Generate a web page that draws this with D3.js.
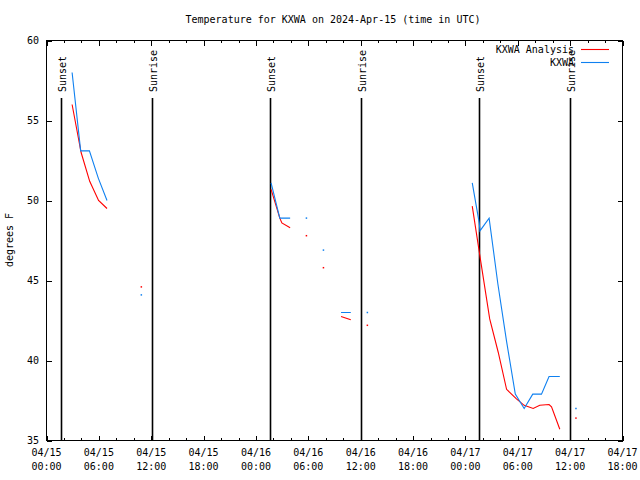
<!DOCTYPE html>
<html>
<head>
<meta charset="utf-8">
<script src="https://cdn.jsdelivr.net/npm/d3@7"></script>
<style>
  html, body { margin: 0; padding: 0; background: #fff; }
  svg { display: block; }
  text { font-family: "DejaVu Sans Mono", "Liberation Mono", monospace; font-size: 10px; fill: #000; }
</style>
</head>
<body>
<svg id="chart" width="640" height="480"></svg>
<script>
// ---------------- DATA ----------------
const titleText = "Temperature for KXWA on 2024-Apr-15 (time in UTC)";
const yLabelText = "degrees F";
const seriesNames = ["KXWA Analysis", "KXWA"];
const seriesColors = ["#ff0000", "#0f80f0"];

// KXWA observations (null = gap)
const kxwaTimes = [
  "2024-04-15 02:56", "2024-04-15 03:55", "2024-04-15 04:55", "2024-04-15 05:56", "2024-04-15 06:56", null,
  "2024-04-15 10:52", null,
  "2024-04-16 01:44", "2024-04-16 02:44", "2024-04-16 03:55", null,
  "2024-04-16 05:47", null,
  "2024-04-16 07:44", null,
  "2024-04-16 09:45", "2024-04-16 10:52", null,
  "2024-04-16 12:46", null,
  "2024-04-17 00:47", "2024-04-17 01:35", "2024-04-17 01:40", "2024-04-17 02:43", "2024-04-17 03:43",
  "2024-04-17 04:43", "2024-04-17 05:43", "2024-04-17 06:44", "2024-04-17 07:43", "2024-04-17 08:43",
  "2024-04-17 09:35", "2024-04-17 10:49", null,
  "2024-04-17 12:40"
];
const kxwaTemps = [
  58.0, 53.1, 53.1, 51.4, 50.0, null,
  44.1, null,
  51.1, 48.9, 48.9, null,
  48.9, null,
  46.9, null,
  43.0, 43.0, null,
  43.0, null,
  51.1, 48.6, 48.1, 48.9, 44.8,
  41.2, 37.9, 37.0, 37.9, 37.9,
  39.0, 39.0, null,
  37.0
];

// KXWA Analysis (null = gap)
const analysisTimes = [
  "2024-04-15 02:56", "2024-04-15 03:58", "2024-04-15 04:57", "2024-04-15 05:58", "2024-04-15 06:56", null,
  "2024-04-15 10:52", null,
  "2024-04-16 01:44", "2024-04-16 02:44", "2024-04-16 02:58", "2024-04-16 03:55", null,
  "2024-04-16 05:47", null,
  "2024-04-16 07:44", null,
  "2024-04-16 09:45", "2024-04-16 10:52", null,
  "2024-04-16 12:46", null,
  "2024-04-17 00:47", "2024-04-17 01:47", "2024-04-17 02:47", "2024-04-17 03:46", "2024-04-17 04:43",
  "2024-04-17 05:51", "2024-04-17 06:44", "2024-04-17 07:46", "2024-04-17 08:31", "2024-04-17 09:35",
  "2024-04-17 09:52", "2024-04-17 10:49", null,
  "2024-04-17 12:40"
];
const analysisTemps = [
  56.0, 53.0, 51.2, 50.0, 49.5, null,
  44.6, null,
  50.7, 48.9, 48.6, 48.3, null,
  47.8, null,
  45.8, null,
  42.75, 42.55, null,
  42.2, null,
  49.65, 46.1, 42.6, 40.5, 38.2,
  37.6, 37.2, 37.0, 37.2, 37.25,
  37.1, 35.7, null,
  36.4
];

const sunsetTimes = ["2024-04-15 01:40", "2024-04-16 01:38", "2024-04-17 01:36"];
const sunriseTimes = ["2024-04-15 12:05", "2024-04-16 12:05", "2024-04-17 11:56"];

const xStart = "2024-04-15 00:00";
const xEnd = "2024-04-17 18:00";
const yTicks = [35, 40, 45, 50, 55, 60];

// ---------------- CHART ----------------
const parse = d3.utcParse("%Y-%m-%d %H:%M");
const svg = d3.select("#chart");
const L = 46.5, R = 622.5, T = 40.5, B = 440.5;

const x = d3.scaleUtc().domain([parse(xStart), parse(xEnd)]).range([L, R]);
const y = d3.scaleLinear().domain([35, 60]).range([B, T]);

// title
svg.append("text").attr("x", 333).attr("y", 23).attr("text-anchor", "middle").text(titleText);
// y label
svg.append("text").attr("transform", "translate(13,240) rotate(-90)")
  .attr("text-anchor", "middle").text(yLabelText);

// ticks
const majorTicks = d3.utcHour.every(6).range(parse(xStart), d3.utcHour.offset(parse(xEnd), 1));
const minorTicks = d3.utcHour.every(2).range(parse(xStart), d3.utcHour.offset(parse(xEnd), 1))
  .filter(d => d.getUTCHours() % 6 !== 0);

function styleAxis(g) {
  g.select(".domain").remove();
  g.selectAll("line").attr("stroke", "#000").attr("shape-rendering", "crispEdges");
  g.selectAll("text").remove();
}
svg.append("g").attr("transform", `translate(0,${B})`)
  .call(d3.axisBottom(x).tickValues(majorTicks).tickSize(-5).tickFormat("")).call(styleAxis);
svg.append("g").attr("transform", `translate(0,${B})`)
  .call(d3.axisBottom(x).tickValues(minorTicks).tickSize(-2.5).tickFormat("")).call(styleAxis);
svg.append("g").attr("transform", `translate(0,${T})`)
  .call(d3.axisTop(x).tickValues(majorTicks).tickSize(-5).tickFormat("")).call(styleAxis);
svg.append("g").attr("transform", `translate(0,${T})`)
  .call(d3.axisTop(x).tickValues(minorTicks).tickSize(-2.5).tickFormat("")).call(styleAxis);
svg.append("g").attr("transform", `translate(${L},0)`)
  .call(d3.axisLeft(y).tickValues(yTicks).tickSize(-5).tickFormat("")).call(styleAxis);
svg.append("g").attr("transform", `translate(${R},0)`)
  .call(d3.axisRight(y).tickValues(yTicks).tickSize(-5).tickFormat("")).call(styleAxis);

// x tick labels (two lines)
const fmtDate = d3.utcFormat("%m/%d"), fmtTime = d3.utcFormat("%H:%M");
const xl = svg.append("g").selectAll("text").data(majorTicks).join("text")
  .attr("text-anchor", "middle");
xl.append("tspan").attr("x", d => x(d)).attr("y", 456).text(d => fmtDate(d));
xl.append("tspan").attr("x", d => x(d)).attr("y", 470).text(d => fmtTime(d));

// y tick labels
svg.append("g").selectAll("text").data(yTicks).join("text")
  .attr("x", 39).attr("y", d => y(d)).attr("dy", "0.35em").attr("text-anchor", "end")
  .text(d => d);

// sunset / sunrise lines
const events = sunsetTimes.map(t => ({ t: parse(t), label: "Sunset" }))
  .concat(sunriseTimes.map(t => ({ t: parse(t), label: "Sunrise" })));
const ev = svg.append("g").selectAll("g").data(events).join("g");
ev.append("line")
  .attr("x1", d => Math.round(x(d.t)) + 0.5).attr("x2", d => Math.round(x(d.t)) + 0.5)
  .attr("y1", 98).attr("y2", B)
  .attr("stroke", "#000").attr("stroke-width", 1.6);
ev.append("text")
  .attr("transform", d => `translate(${Math.round(x(d.t)) + 4.5},92) rotate(-90)`)
  .attr("text-anchor", "start").text(d => d.label);

// series
function buildPoints(times, temps) {
  return times.map((t, i) => ({ t: t == null ? null : parse(t), v: temps[i] }));
}
const series = [
  { name: seriesNames[0], color: seriesColors[0], pts: buildPoints(analysisTimes, analysisTemps) },
  { name: seriesNames[1], color: seriesColors[1], pts: buildPoints(kxwaTimes, kxwaTemps) }
];
const line = d3.line().defined(d => d.t != null && d.v != null).x(d => x(d.t)).y(d => y(d.v));

series.forEach(s => {
  svg.append("path").datum(s.pts)
    .attr("d", line).attr("fill", "none").attr("stroke", s.color).attr("stroke-width", 1.1);
  const iso = s.pts.filter((d, i) => d.t != null &&
    (i === 0 || s.pts[i - 1].t == null) && (i === s.pts.length - 1 || s.pts[i + 1].t == null));
  svg.append("g").selectAll("rect").data(iso).join("rect")
    .attr("x", d => x(d.t) - 0.75).attr("y", d => y(d.v) - 0.75)
    .attr("width", 1.5).attr("height", 1.5).attr("fill", s.color);
});

// frame
svg.append("rect").attr("x", L).attr("y", T).attr("width", R - L).attr("height", B - T)
  .attr("fill", "none").attr("stroke", "#000").attr("stroke-width", 1).attr("shape-rendering", "crispEdges");

// legend
const lg = svg.append("g").selectAll("g").data(series).join("g")
  .attr("transform", (d, i) => `translate(0,${49.5 + i * 13})`);
lg.append("text").attr("x", 574).attr("dy", "0.35em").attr("text-anchor", "end").text(d => d.name);
lg.append("line").attr("x1", 581).attr("x2", 609).attr("y1", 0).attr("y2", 0)
  .attr("stroke", d => d.color).attr("stroke-width", 1.1);
</script>
</body>
</html>
